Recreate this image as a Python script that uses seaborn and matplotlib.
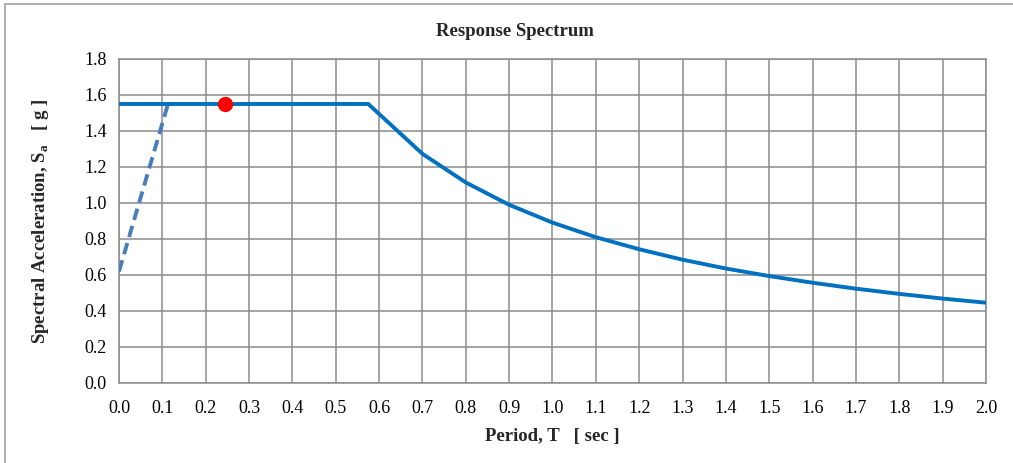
import matplotlib
matplotlib.use("Agg")
import matplotlib.pyplot as plt
import seaborn as sns
import pandas as pd
from matplotlib.patches import Rectangle

period = [0.0, 0.575, 0.7, 0.8, 0.9, 1.0, 1.1, 1.2, 1.3, 1.4, 1.5, 1.6, 1.7, 1.8, 1.9, 2.0]
sa = [1.55, 1.55, 1.273, 1.114, 0.990, 0.891, 0.810, 0.743, 0.685, 0.636, 0.594, 0.557, 0.524, 0.495, 0.469, 0.446]
ramp_t = [0.0, 0.113]
ramp_sa = [0.62, 1.55]
point_t = [0.245]
point_sa = [1.55]

xticks = [round(0.1 * i, 1) for i in range(21)]
yticks = [round(0.2 * i, 1) for i in range(10)]

sns.set_theme(style="white")
plt.rcParams['font.family'] = ['Liberation Serif', 'DejaVu Serif']
plt.rcParams['mathtext.fontset'] = 'custom'
plt.rcParams['mathtext.rm'] = 'Liberation Serif'
plt.rcParams['mathtext.bf'] = 'Liberation Serif:bold'

spec = pd.DataFrame({'T': period, 'Sa': sa})
ramp = pd.DataFrame({'T': ramp_t, 'Sa': ramp_sa})

fig = plt.figure(figsize=(10.13, 4.63), dpi=100)
ax = fig.add_axes([0.1175, 0.1728, 0.9733 - 0.1175, 0.8726 - 0.1728])

sns.lineplot(data=ramp, x='T', y='Sa', ax=ax, color='#4a7ebb', lw=2.8,
             linestyle=(0, (3, 1.6)), zorder=3)
sns.lineplot(data=spec, x='T', y='Sa', ax=ax, color='#0070c0', lw=2.8, zorder=4)
ax.plot(point_t, point_sa, 'o', color='#ff0000', ms=10, zorder=5)

ax.set_xlim(0, 2.0)
ax.set_ylim(0, 1.8)
ax.set_xticks(xticks)
ax.set_yticks(yticks)
ax.set_xticklabels([f"{v:.1f}" for v in xticks])
ax.set_yticklabels([f"{v:.1f}" for v in yticks])
ax.grid(True, color='#8c8c8c', lw=1.1)
ax.set_axisbelow(True)
for s in ax.spines.values():
    s.set_color('#8c8c8c')
    s.set_linewidth(1.1)
ax.tick_params(axis='both', labelsize=13, colors='black', length=5,
               width=1.1, color='#8c8c8c', direction='out')
ax.tick_params(axis='x', pad=7)
ax.tick_params(axis='y', pad=4)

ax.set_xlabel("Period, T   [ sec ]", fontsize=13.5, fontweight='bold', labelpad=8)
ax.set_ylabel(r"Spectral Acceleration, S$_\mathbf{a}$   [ g ]", fontsize=13.5,
              fontweight='bold', labelpad=24)
fig.text(515 / 1013, 1 - 31 / 463, "Response Spectrum", ha='center', va='center',
         fontsize=13.5, fontweight='bold')

fig.patches.append(Rectangle((5 / 1013, -0.1), 1.1, 0.1 + 1 - 4.5 / 463,
                             transform=fig.transFigure, fill=False,
                             edgecolor='#a0a0a0', lw=1.2))

fig.savefig("out.png", dpi=100)
